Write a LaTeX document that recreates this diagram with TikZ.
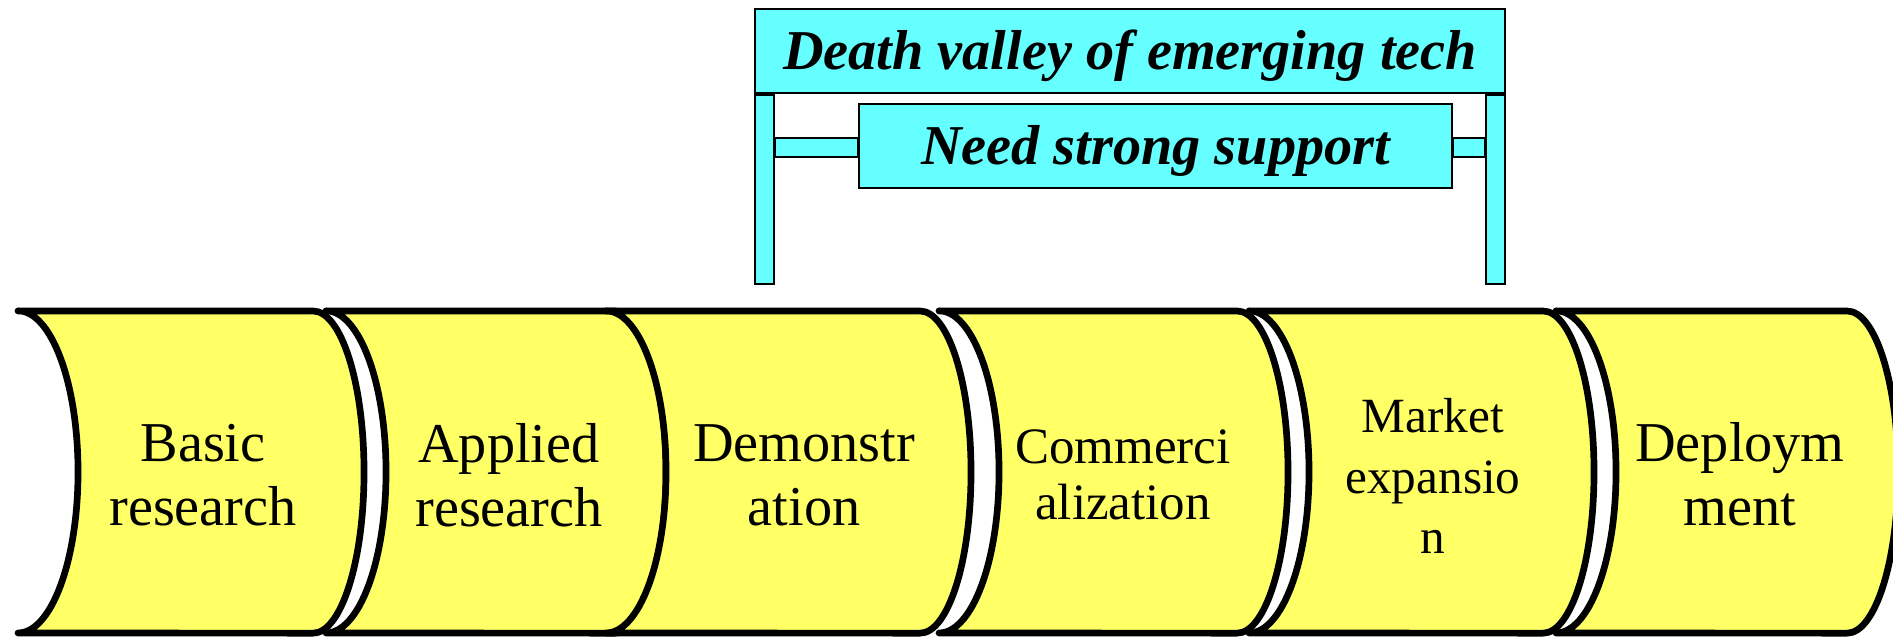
\documentclass[tikz,border=0pt]{standalone}
\usepackage{fontspec}
\setmainfont{Liberation Serif}
\usetikzlibrary{positioning}
\definecolor{stageyellow}{HTML}{FFFF66}
\definecolor{valleycyan}{HTML}{66FFFF}

\begin{document}
\begin{tikzpicture}[
        x=0.01cm, y=0.01cm,
        stage/.style={draw, line width=1.9pt, line join=round, fill=stageyellow},
        bar/.style={draw, line width=0.6pt, fill=valleycyan, inner sep=0pt},
        leg/.style={bar, minimum width=0.19cm, minimum height=1.89cm},
        sign/.style={bar, minimum height=0.84cm, text height=10.6pt, text depth=0pt, font=\fontsize{16}{19}\selectfont\bfseries\itshape},
        label/.style={align=center, font=\fontsize{16}{18.2}\selectfont}
    ]
    \useasboundingbox (0,0) rectangle (1893,637);
    \clip (0,0) rectangle (1893,637);

    % Stages: tip x / corner x
    \foreach \tip/\corner in {18/313, 326/615, 606/920, 939/1237, 1249/1543, 1556/1847} {
        \draw[stage] (\tip,326) -- (\corner,326)
            arc[start angle=90, end angle=-90, x radius=0.51cm, y radius=1.61cm]
            -- (\tip,4)
            arc[start angle=-90, end angle=90, x radius=0.6cm, y radius=1.61cm] -- cycle;
    }

    \node[label] (basic) at (203,162) {Basic\\research};
    \node[label] (applied) at (509,162) {Applied\\research};
    \node[label] (demo) at (804,162) {Demonstr\\ation};
    \node[label, font=\fontsize{14.5}{15.9}\selectfont] (commerce) at (1123,162) {Commerci\\alization};
    \node[label, font=\fontsize{14}{17.3}\selectfont] (market) at (1433,161) {Market\\expansio\\n};
    \node[label] (deploy) at (1740,163) {Deploym\\ment};

    % Bridge over the valley
    \node[sign, minimum width=7.5cm] (valley) at (1130,586) {Death valley of emerging tech};
    \node[leg, below right=0pt and 0pt of valley.south west] (legL) {};
    \node[leg, below left=0pt and 0pt of valley.south east] (legR) {};
    \node[sign, minimum width=5.93cm] (support) at (1155.5,491) {Need strong support};
    \draw[bar] (legL.east |- 0,480) rectangle (support.west |- 0,499);
    \draw[bar] (support.east |- 0,480) rectangle (legR.west |- 0,499);

\end{tikzpicture}
\end{document}
